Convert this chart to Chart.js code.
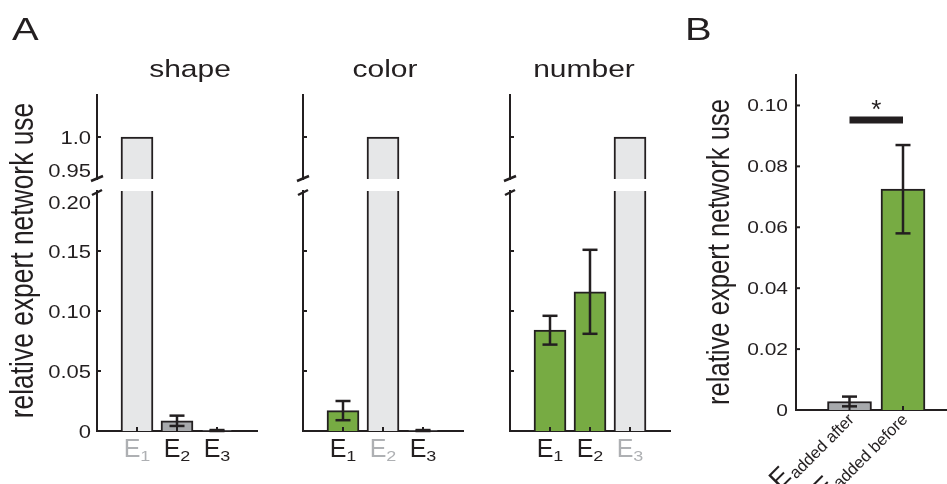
<!DOCTYPE html>
<html>
<head>
<meta charset="utf-8">
<script src="https://cdn.jsdelivr.net/npm/chart.js@4.4.1/dist/chart.umd.min.js"></script>
<style>
  html, body { margin: 0; padding: 0; background: #fff; }
  #fig { position: relative; width: 947px; height: 484px; overflow: hidden; }
  #fig canvas { position: absolute; left: 0; top: 0; }
</style>
</head>
<body>
<div id="fig"></div>
<script>
// subscripts of the experts E1..E3, and the three tasks
const categories = ['1', '2', '3'];
const tasks = ['shape', 'color', 'number'];

// panel A: relative expert network use (mean, error)
const shapeUse = [1.0, 0.0085, 0.0004];
const shapeErr = [0, 0.0043, 0.0004];
const colorUse = [0.017, 1.0, 0.0004];
const colorErr = [0.008, 0, 0.0004];
const numberUse = [0.084, 0.116, 1.0];
const numberErr = [0.012, 0.035, 0];

const lowTicks = [0, 0.05, 0.10, 0.15, 0.20];
const lowTickLabels = ['0', '0.05', '0.10', '0.15', '0.20'];
const highTicks = [0.95, 1.0];
const highTickLabels = ['0.95', '1.0'];

// panel B
const orderLabels = ['added after', 'added before'];
const orderUse = [0.0028, 0.0725];
const orderErr = [0.0016, 0.0145];
const orderTicks = [0, 0.02, 0.04, 0.06, 0.08, 0.10];
const orderTickLabels = ['0', '0.02', '0.04', '0.06', '0.08', '0.10'];
const sigLevel = 0.0952;

const INK = '#231f20';
const LIGHT = '#e6e7e8';
const GRAY = '#a7a9ac';
const GREEN = '#77ab43';
const FADED = '#aeb0b3';
const FONT = '"Liberation Sans", Arial, Helvetica, sans-serif';
const W = 947, H = 484;
const SQ = 0.8; // the figure is a little squashed vertically

const LOW = { top: 191, bottom: 431, min: 0, max: 0.2 };
const HIGH = { top: 95, bottom: 179, min: 0.95, max: 1.05 };

const subplots = [
  { title: tasks[0], use: shapeUse, err: shapeErr, fill: [LIGHT, GRAY, GRAY], own: 0, axisX: 97, titleX: 190, labels: true },
  { title: tasks[1], use: colorUse, err: colorErr, fill: [GREEN, LIGHT, GRAY], own: 1, axisX: 303, titleX: 385 },
  { title: tasks[2], use: numberUse, err: numberErr, fill: [GREEN, GREEN, LIGHT], own: 2, axisX: 510, titleX: 584 },
];

function addCanvas() {
  const c = document.createElement('canvas');
  c.width = W; c.height = H;
  c.style.width = W + 'px'; c.style.height = H + 'px';
  document.getElementById('fig').appendChild(c);
  return c;
}

function seg(ctx, x1, y1, x2, y2, w) {
  ctx.beginPath();
  ctx.lineWidth = w;
  ctx.moveTo(x1, y1);
  ctx.lineTo(x2, y2);
  ctx.stroke();
}

function text(ctx, str, x, y, size, color, align, sy) {
  ctx.save();
  ctx.translate(x, y);
  ctx.scale(1, sy);
  ctx.font = size + 'px ' + FONT;
  ctx.fillStyle = color;
  ctx.textAlign = align;
  ctx.textBaseline = 'alphabetic';
  ctx.fillText(str, 0, 0);
  ctx.restore();
}

function errorBars(ctx, xs, ys, use, err) {
  use.forEach((v, i) => {
    if (!err[i]) return;
    const x = xs.getPixelForValue(i + 1);
    const lo = ys.getPixelForValue(v - err[i]);
    const hi = ys.getPixelForValue(v + err[i]);
    seg(ctx, x, lo, x, hi, 2.5);
    seg(ctx, x - 7.5, lo, x + 7.5, lo, 2.5);
    seg(ctx, x - 7.5, hi, x + 7.5, hi, 2.5);
  });
}

function barChart(p) {
  return new Chart(addCanvas(), {
    type: 'bar',
    data: {
      datasets: [{
        data: p.use.map((v, i) => ({ x: i + 1, y: v })),
        backgroundColor: p.fill,
        borderColor: INK,
        borderWidth: 2,
        borderSkipped: 'start',
        barThickness: p.barW,
        clip: 0,
      }],
    },
    options: {
      responsive: false,
      animation: false,
      devicePixelRatio: 1,
      layout: { padding: { left: p.left, right: W - p.right, top: p.top, bottom: H - p.bottom } },
      plugins: { legend: { display: false }, tooltip: { enabled: false } },
      scales: {
        x: {
          type: 'linear', min: 0, max: p.xMax, offset: false, display: p.showX,
          grid: { display: false, drawTicks: false }, ticks: { display: false },
          border: { color: INK, width: 2 },
        },
        y: {
          min: p.min, max: p.max,
          grid: { display: false, drawTicks: false }, ticks: { display: false },
          border: { color: INK, width: 2 },
        },
      },
    },
    plugins: [{ id: 'decor', afterDraw: (chart) => p.draw(chart) }],
  });
}

// panel A: every subplot is an upper and a lower chart around the axis break
subplots.forEach((sp) => {
  const common = {
    use: sp.use, fill: sp.fill, barW: 32, xMax: 4,
    left: sp.axisX, right: sp.axisX + 160,
  };

  barChart({
    ...common, top: HIGH.top, bottom: HIGH.bottom, min: HIGH.min, max: HIGH.max, showX: false,
    draw: (chart) => {
      const ctx = chart.ctx, ys = chart.scales.y;
      const ax = chart.chartArea.left, b = chart.chartArea.bottom;
      ctx.save();
      ctx.strokeStyle = INK;
      const y1 = ys.getPixelForValue(highTicks[1]);
      seg(ctx, ax, y1, ax + 4, y1, 2);
      seg(ctx, ax - 6, b + 2, ax + 6, b - 3, 2.5);
      if (sp.labels) {
        const nudge = { '0.95': -9 };
        highTicks.forEach((v, i) => {
          const y = ys.getPixelForValue(v) + (nudge[highTickLabels[i]] || 0);
          text(ctx, highTickLabels[i], ax - 6, y + 6.5, 22, INK, 'right', SQ);
        });
      }
      ctx.restore();
    },
  });

  barChart({
    ...common, top: LOW.top, bottom: LOW.bottom, min: LOW.min, max: LOW.max, showX: true,
    draw: (chart) => {
      const ctx = chart.ctx, xs = chart.scales.x, ys = chart.scales.y;
      const ax = chart.chartArea.left, t = chart.chartArea.top, b = chart.chartArea.bottom;
      ctx.save();
      ctx.strokeStyle = INK;
      lowTicks.forEach((v) => {
        if (v > LOW.min && v < LOW.max) {
          const y = ys.getPixelForValue(v);
          seg(ctx, ax, y, ax + 4, y, 2);
        }
      });
      categories.forEach((c, i) => {
        const x = xs.getPixelForValue(i + 1);
        seg(ctx, x, b, x, b - 4, 2);
      });
      errorBars(ctx, xs, ys, sp.use, sp.err);
      seg(ctx, ax - 5, t + 4, ax + 5, t - 1, 2.5);
      if (sp.labels) {
        const nudge = { '0.20': 11 };
        lowTicks.forEach((v, i) => {
          const y = ys.getPixelForValue(v) + (nudge[lowTickLabels[i]] || 0);
          text(ctx, lowTickLabels[i], ax - 6, y + 6.5, 22, INK, 'right', SQ);
        });
      }
      // E with subscript under every bar
      categories.forEach((c, i) => {
        const x = xs.getPixelForValue(i + 1);
        const col = i === sp.own ? FADED : INK;
        ctx.font = '25px ' + FONT;
        const wE = ctx.measureText('E').width;
        ctx.font = '18px ' + FONT;
        const wS = ctx.measureText(c).width;
        const x0 = x - (wE + wS) / 2;
        text(ctx, 'E', x0, 457, 25, col, 'left', 1.05);
        text(ctx, c, x0 + wE, 461, 18, col, 'left', 0.85);
      });
      text(ctx, sp.title, sp.titleX, 77, 30, INK, 'center', SQ);
      ctx.restore();
    },
  });
});

// panel B
barChart({
  use: orderUse, fill: [GRAY, GREEN], barW: 44, xMax: (W - 796) / 53.5,
  left: 796, right: W, top: 75, bottom: 410, min: 0, max: 0.11, showX: true,
  draw: (chart) => {
    const ctx = chart.ctx, xs = chart.scales.x, ys = chart.scales.y;
    const ax = chart.chartArea.left, b = chart.chartArea.bottom;
    ctx.save();
    ctx.strokeStyle = INK;
    orderTicks.forEach((v, i) => {
      const y = ys.getPixelForValue(v);
      if (v > 0) seg(ctx, ax, y, ax + 4, y, 2);
      text(ctx, orderTickLabels[i], ax - 8, y + 6, 21, INK, 'right', SQ);
    });
    orderLabels.forEach((lab, i) => {
      const x = xs.getPixelForValue(i + 1);
      seg(ctx, x, b, x, b - 4, 2);
    });
    errorBars(ctx, xs, ys, orderUse, orderErr);

    // significance bar and star
    const sy = ys.getPixelForValue(sigLevel);
    const x1 = xs.getPixelForValue(1), x2 = xs.getPixelForValue(2);
    seg(ctx, x1, sy, x2, sy, 7);
    text(ctx, '*', (x1 + x2) / 2, sy - 2, 26, INK, 'center', 1);

    // rotated tick labels
    orderLabels.forEach((lab, i) => {
      const x = xs.getPixelForValue(i + 1);
      ctx.save();
      ctx.translate(x - 3, b + 2);
      ctx.rotate(-Math.PI / 4);
      ctx.fillStyle = INK;
      ctx.textAlign = 'right';
      ctx.textBaseline = 'alphabetic';
      ctx.font = '16.5px ' + FONT;
      ctx.fillText(lab, 0, 12);
      const wS = ctx.measureText(lab).width;
      ctx.font = '27px ' + FONT;
      ctx.fillText('E', -wS - 1, 8);
      ctx.restore();
    });

    // panel letters and y titles
    text(ctx, 'A', 12, 40, 40, INK, 'left', SQ);
    text(ctx, 'B', 685, 40, 40, INK, 'left', SQ);
    [[33, 260.5, 33], [729, 252, 32]].forEach(([x, y, size]) => {
      ctx.save();
      ctx.translate(x, y);
      ctx.rotate(-Math.PI / 2);
      ctx.scale(SQ, 1);
      ctx.font = size + 'px ' + FONT;
      ctx.fillStyle = INK;
      ctx.textAlign = 'center';
      ctx.textBaseline = 'alphabetic';
      ctx.fillText('relative expert network use', 0, 0);
      ctx.restore();
    });
    ctx.restore();
  },
});
</script>
</body>
</html>
